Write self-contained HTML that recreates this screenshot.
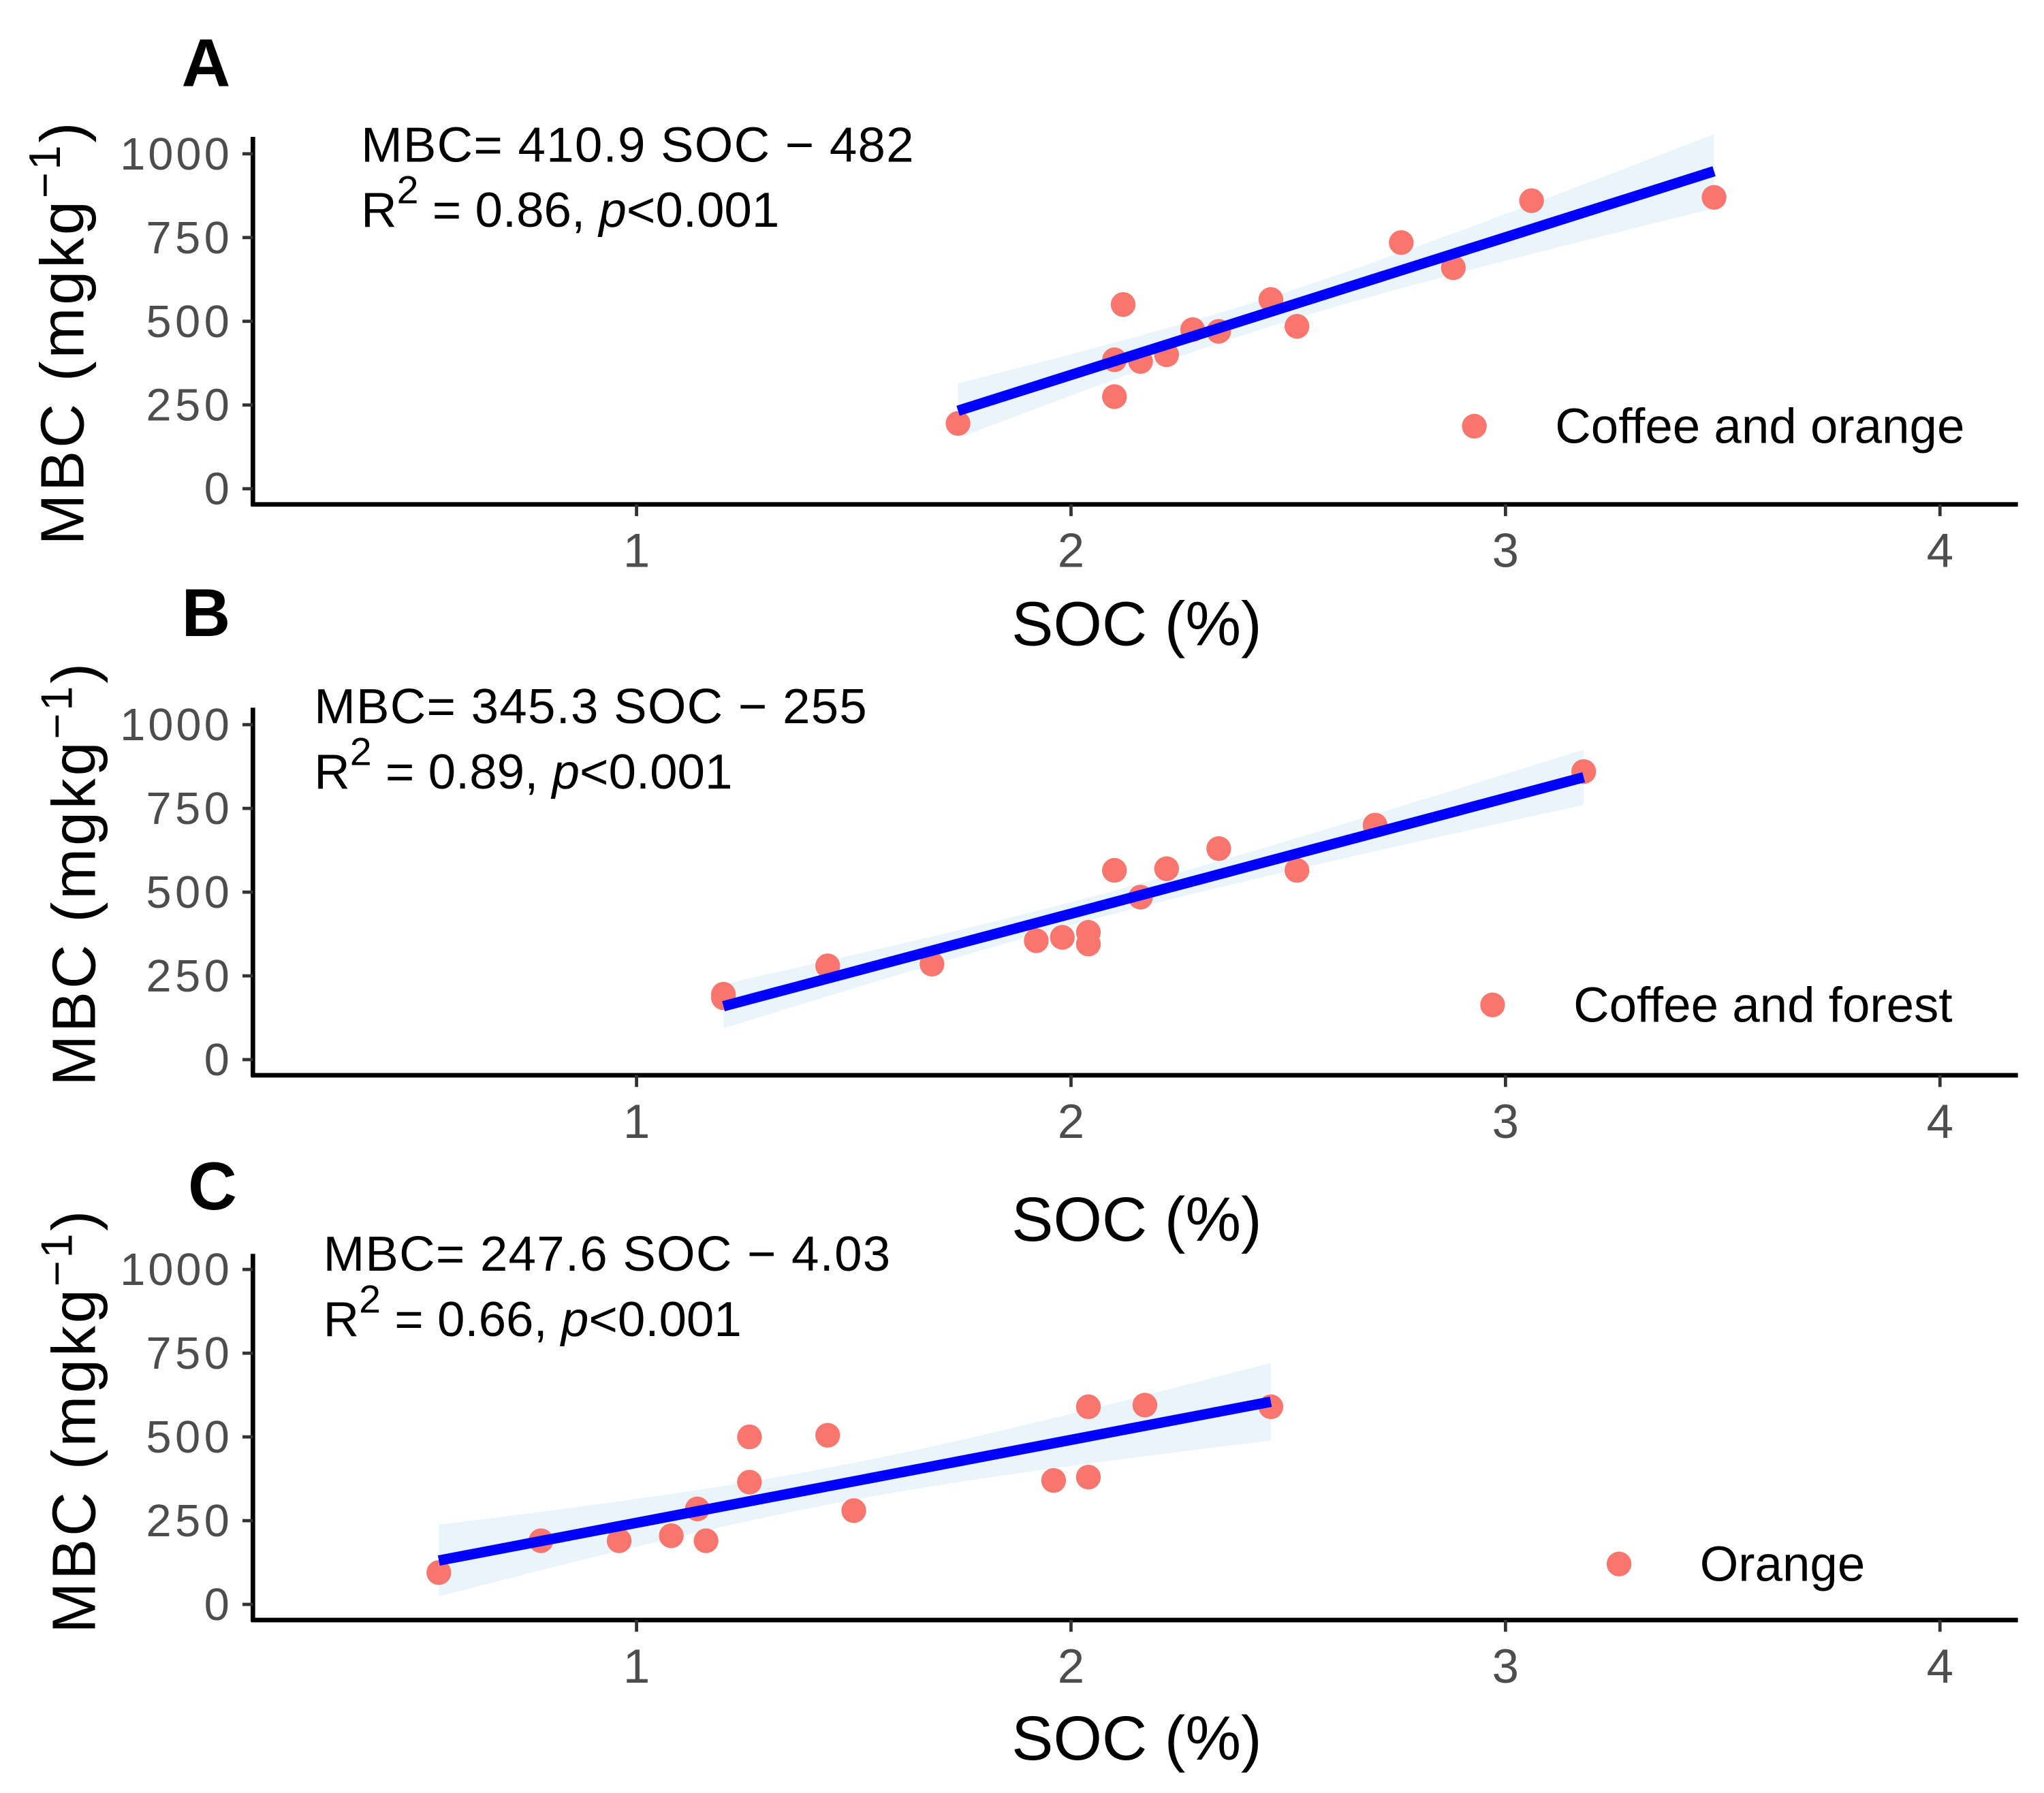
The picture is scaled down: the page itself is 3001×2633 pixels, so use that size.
<!DOCTYPE html>
<html><head><meta charset="utf-8"><style>
html,body{margin:0;padding:0;background:#fff;}
svg{display:block;}
text{font-family:"Liberation Sans",Arial,sans-serif;}
</style></head><body>
<svg id="fig" xmlns="http://www.w3.org/2000/svg" width="3001" height="2633" viewBox="0 0 1568 1375.7"></svg>
<script>
// Panel A: Coffee and orange
const socA = [1.74,2.10,2.10,2.12,2.16,2.22,2.28,2.34,2.46,2.52,2.76,2.88,3.06,3.48];
const mbcA = [195,275,385,550,380,400,475,470,565,485,735,660,860,870];
// Panel B: Coffee and forest
const socB = [1.20,1.20,1.44,1.68,1.92,1.98,2.04,2.04,2.10,2.16,2.22,2.34,2.52,2.70,3.18];
const mbcB = [195,185,280,285,355,365,380,345,565,485,570,630,565,700,860];
// Panel C: Orange
const socC = [0.545,0.78,0.96,1.08,1.14,1.16,1.26,1.26,1.44,1.50,1.96,2.04,2.04,2.17,2.46];
const mbcC = [95,190,190,205,285,190,500,365,505,280,370,590,380,595,590];
const slopes = [410.9,345.3,247.6];
const intercepts = [-482,-255,-4.03];
const xTicks = [1,2,3,4];
const yTicks = [0,250,500,750,1000];
const legendLabels = ["Coffee and orange","Coffee and forest","Orange"];
const panelLetters = ["A","B","C"];
const eqText = ["MBC= 410.9 SOC \u2212 482","MBC= 345.3 SOC \u2212 255","MBC= 247.6 SOC \u2212 4.03"];
const r2Text = ["0.86","0.89","0.66"];

const NS="http://www.w3.org/2000/svg";
const svg=document.getElementById('fig');
function mk(tag,attrs,parent){const e=document.createElementNS(NS,tag);for(const k in attrs)e.setAttribute(k,attrs[k]);(parent||svg).appendChild(e);return e;}

const layouts=[
 {y0:375,axisY:387,yTop:105,tickLab:422,title:478,letter:[158,66],ytx:48,ytc:255,ann:[277,124],leg:[1131,327]},
 {y0:813,axisY:825,yTop:543,tickLab:860,title:935,letter:[158,488],ytx:57,ytc:670,ann:[241,555],leg:[1145,771]},
 {y0:1231,axisY:1243,yTop:962,tickLab:1278,title:1333,letter:[163,928],ytx:57,ytc:1090,ann:[248,975],leg:[1242,1200]}
];
const datasets=[[socA,mbcA],[socB,mbcB],[socC,mbcC]];
const xs=v=>155+333.3*v;

layouts.forEach((L,i)=>{
  const g=mk('g',{});
  
  
  const ys=v=>L.y0-0.257*v;
  const [sx,sy]=datasets[i];
  const n=sx.length, a=slopes[i], b=intercepts[i];
  const xm=sx.reduce((p,c)=>p+c,0)/n;
  const sxx=sx.reduce((p,c)=>p+(c-xm)*(c-xm),0);
  const sse=sx.reduce((p,c,j)=>p+Math.pow(sy[j]-(a*c+b),2),0);
  const s=Math.sqrt(sse/(n-2)), t=2.16;
  const xmin=Math.min(...sx), xmax=Math.max(...sx);
  const up=[],lo=[];
  for(let k=0;k<=40;k++){const x=xmin+(xmax-xmin)*k/40;const h=t*s*Math.sqrt(1/n+(x-xm)*(x-xm)/sxx);const f=a*x+b;
    up.push(xs(x).toFixed(1)+','+ys(f+h).toFixed(1));lo.unshift(xs(x).toFixed(1)+','+ys(f-h).toFixed(1));}
  const band=mk('polygon',{points:up.concat(lo).join(' '),fill:'#d6ebf7',opacity:'0.5'},g);
  
  
  sx.forEach((x,j)=>{const c=mk('circle',{cx:xs(x),cy:ys(sy[j]),r:9.5,fill:'#F8766D'},g);
    
    });
  const ln=mk('line',{x1:xs(xmin),y1:ys(a*xmin+b),x2:xs(xmax),y2:ys(a*xmax+b),stroke:'#0000FF','stroke-width':8},g);
  
  
  const ya=mk('line',{x1:194,y1:L.yTop,x2:194,y2:L.axisY+1,stroke:'#000','stroke-width':3.5},g);
  
  
  const xa=mk('line',{x1:192.5,y1:L.axisY,x2:1548,y2:L.axisY,stroke:'#000','stroke-width':3.5},g);
  
  
  yTicks.forEach(v=>{mk('line',{x1:186,y1:ys(v),x2:194,y2:ys(v),stroke:'#333','stroke-width':2.5},g);
    const tl=mk('text',{x:176,y:ys(v)+12,'text-anchor':'end','font-size':35,fill:'#4d4d4d',textLength:v>=1000?84:(v>0?64:null)},g);
    if(v===0)tl.removeAttribute('textLength');
    tl.textContent=v;
    
    });
  xTicks.forEach(v=>{mk('line',{x1:xs(v),y1:L.axisY,x2:xs(v),y2:L.axisY+9,stroke:'#333','stroke-width':2.5},g);
    const tl=mk('text',{x:xs(v),y:L.tickLab+13,'text-anchor':'middle','font-size':37,fill:'#4d4d4d'},g);tl.textContent=v;
    
    });
  const xt=mk('text',{x:872,y:L.title+17,'text-anchor':'middle','font-size':48,fill:'#000'},g);xt.textContent='SOC (%)';
  
  
  const yt=mk('text',{x:0,y:0,'text-anchor':'middle','font-size':47,fill:'#000','letter-spacing':'2',transform:`translate(${L.ytx+16},${L.ytc}) rotate(-90)`},g);
  yt.innerHTML='MBC (mgkg<tspan dy="-18" font-size="34">\u22121</tspan><tspan dy="18">)</tspan>';
  
  
  const lt=mk('text',{x:L.letter[0],y:L.letter[1],'text-anchor':'middle','font-size':52,'font-weight':'bold',fill:'#000'},g);lt.textContent=panelLetters[i];
  
  
  const e1=mk('text',{x:L.ann[0],y:L.ann[1],'font-size':38,fill:'#000',textLength:i===2?435:424},g);e1.textContent=eqText[i];
  
  
  const e2=mk('text',{x:L.ann[0],y:L.ann[1]+50,'font-size':38,fill:'#000'},g);
  e2.innerHTML=`R<tspan dy="-18" font-size="30">2</tspan><tspan dy="18"> = ${r2Text[i]}, </tspan><tspan font-style="italic">p</tspan>&lt;0.001`;
  
  
  const ld=mk('circle',{cx:L.leg[0],cy:L.leg[1],r:9.5,fill:'#F8766D'},g);
  
  
  const lg=mk('text',{x:L.leg[0]+62,y:L.leg[1]+13,'font-size':38,fill:'#000'},g);lg.textContent=legendLabels[i];
  
  
});
</script>
</body></html>
